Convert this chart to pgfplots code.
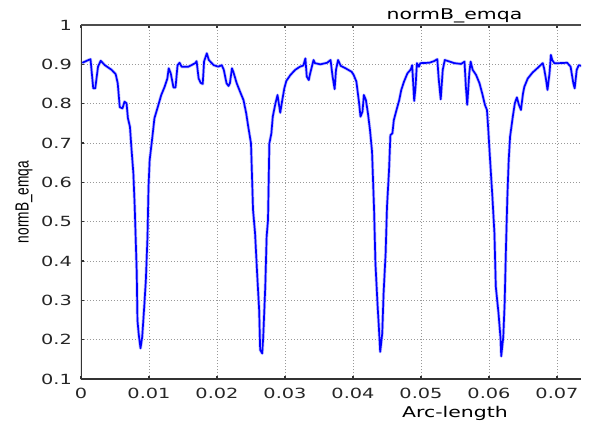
\documentclass[border=0pt]{standalone}
\usepackage{fontspec}
\usepackage{pgfplots}
\pgfplotsset{compat=1.18}
\usetikzlibrary{calc}
\newfontfamily\plotfont{DejaVu Sans}[FakeStretch=1.38]
\newfontfamily\ylabfont{Liberation Sans}[FakeStretch=0.72]

\begin{document}
\begin{tikzpicture}
\begin{axis}[
    scale only axis,
    width=500bp, height=354bp,
    xmin=0, xmax=0.07353,
    ymin=0.1, ymax=1,
    scaled x ticks=false, scaled y ticks=false,
    xtick={0,0.01,0.02,0.03,0.04,0.05,0.06,0.07},
    xticklabels={0,0.01,0.02,0.03,0.04,0.05,0.06,0.07},
    ytick={0.1,0.2,0.3,0.4,0.5,0.6,0.7,0.8,0.9,1},
    yticklabels={0.1,0.2,0.3,0.4,0.5,0.6,0.7,0.8,0.9,1},
    tick label style={font=\plotfont\fontsize{14bp}{16bp}\selectfont, black!85, inner sep=0pt},
    yticklabel style={anchor=east, xshift=-9bp},
    xticklabel style={anchor=north, yshift=-9bp},
    tick align=inside,
    xtick pos=both, ytick pos=left,
    major tick length=3bp,
    every tick/.style={black!80, line width=1.5bp},
    grid=major,
    major grid style={gray!80, line width=0.8bp, dash pattern=on 1bp off 2bp},
    axis line style={draw=none},
    title={normB\_emqa},
    every axis title/.style={at={(rel axis cs:0.747,1)}, anchor=base, yshift=5.5bp,
        inner sep=0pt, font=\plotfont\fontsize{14.8bp}{16bp}\selectfont},
    xlabel={Arc-length},
    every axis x label/.style={at={(rel axis cs:0.748,0)}, anchor=north, yshift=-27bp,
        inner sep=0pt, font=\plotfont\fontsize{14.8bp}{16bp}\selectfont},
    ylabel={normB\_emqa},
    every axis y label/.style={at={(rel axis cs:0,0.5)}, xshift=-57bp, rotate=90, anchor=center,
        inner sep=0pt, font=\ylabfont\fontsize{19bp}{21bp}\selectfont},
    clip=true,
]
\addplot[blue, line width=1.7bp, line join=round,
    preaction={draw, blue!22, line width=3.2bp, line join=round}] coordinates {
(0.0002,0.904) (0.0011,0.911) (0.0014,0.913) (0.0018,0.839) (0.0021,0.839)
(0.0025,0.894) (0.0029,0.909) (0.0035,0.898) (0.0045,0.886) (0.0051,0.875)
(0.0054,0.852) (0.0057,0.791) (0.0061,0.788) (0.0064,0.805) (0.0067,0.801)
(0.0069,0.763) (0.0072,0.741) (0.0074,0.691) (0.0077,0.623) (0.0079,0.538)
(0.0082,0.369) (0.0083,0.250) (0.0085,0.212) (0.00875,0.178) (0.0090,0.207)
(0.0093,0.284) (0.00954,0.352) (0.00978,0.462) (0.00993,0.589) (0.0101,0.657)
(0.0105,0.716) (0.0108,0.763) (0.0113,0.792) (0.0118,0.822) (0.0123,0.843)
(0.0127,0.864) (0.0129,0.890) (0.0132,0.877) (0.0136,0.841) (0.0139,0.841)
(0.0142,0.898) (0.0145,0.904) (0.0148,0.894) (0.0158,0.894) (0.0168,0.903)
(0.0170,0.908) (0.0173,0.864) (0.0176,0.853) (0.0179,0.850) (0.0181,0.907)
(0.0185,0.928) (0.0188,0.911) (0.0195,0.898) (0.0202,0.894) (0.0207,0.898)
(0.0210,0.886) (0.0214,0.852) (0.0217,0.845) (0.0219,0.852) (0.0222,0.890)
(0.0224,0.881) (0.0229,0.852) (0.0234,0.830) (0.0239,0.809) (0.0243,0.775)
(0.0246,0.741) (0.0250,0.699) (0.0253,0.530) (0.0256,0.470) (0.0259,0.369)
(0.0262,0.275) (0.02635,0.174) (0.02665,0.165) (0.0268,0.207) (0.0271,0.335)
(0.0273,0.462) (0.0275,0.504) (0.0277,0.699) (0.0280,0.725) (0.0282,0.767)
(0.0286,0.801) (0.0289,0.822) (0.0293,0.777) (0.0296,0.809) (0.0299,0.839)
(0.0302,0.858) (0.0308,0.873) (0.0315,0.886) (0.0322,0.894) (0.0327,0.897)
(0.0330,0.915) (0.0332,0.869) (0.0335,0.860) (0.0337,0.877) (0.0342,0.911)
(0.0344,0.903) (0.0352,0.900) (0.0362,0.904) (0.0367,0.911) (0.0370,0.869)
(0.0373,0.837) (0.0375,0.886) (0.0378,0.911) (0.0382,0.896) (0.0389,0.890)
(0.0398,0.881) (0.0401,0.873) (0.0405,0.856) (0.0409,0.801) (0.0411,0.767)
(0.0414,0.780) (0.0416,0.822) (0.0419,0.809) (0.0422,0.775) (0.0425,0.733)
(0.0428,0.678) (0.0431,0.530) (0.0433,0.394) (0.0436,0.292) (0.0438,0.233)
(0.0440,0.169) (0.0443,0.216) (0.0445,0.318) (0.0448,0.420) (0.0450,0.538)
(0.0453,0.631) (0.0455,0.720) (0.0458,0.725) (0.0460,0.758) (0.0464,0.784)
(0.0468,0.809) (0.0471,0.835) (0.0475,0.856) (0.0480,0.877) (0.0485,0.887)
(0.0487,0.898) (0.0490,0.807) (0.0492,0.843) (0.0494,0.903) (0.0497,0.894)
(0.0499,0.903) (0.0512,0.904) (0.0519,0.908) (0.0524,0.913) (0.0526,0.864)
(0.0529,0.811) (0.0532,0.886) (0.0535,0.911) (0.0542,0.907) (0.0549,0.903)
(0.0559,0.901) (0.0564,0.907) (0.0566,0.843) (0.0568,0.797) (0.0571,0.877)
(0.0573,0.907) (0.0576,0.886) (0.0581,0.873) (0.0586,0.852) (0.0590,0.826)
(0.0594,0.797) (0.0597,0.784) (0.0599,0.733) (0.0601,0.674) (0.0605,0.563)
(0.0608,0.470) (0.0610,0.335) (0.0614,0.267) (0.0617,0.203) (0.0618,0.158)
(0.0621,0.207) (0.0623,0.292) (0.0625,0.436) (0.0627,0.563) (0.0629,0.657)
(0.0631,0.716) (0.0635,0.767) (0.0638,0.801) (0.0641,0.816) (0.0644,0.797)
(0.0647,0.784) (0.0650,0.826) (0.0652,0.843) (0.0657,0.864) (0.0664,0.879)
(0.0671,0.890) (0.0679,0.903) (0.0681,0.890) (0.0684,0.860) (0.0686,0.835)
(0.0689,0.877) (0.0691,0.924) (0.0693,0.911) (0.0696,0.903) (0.0703,0.903)
(0.0715,0.904) (0.0720,0.894) (0.0724,0.852) (0.0726,0.839) (0.0729,0.886)
(0.0732,0.898) (0.0736,0.896)
};
% frame: heavy left/bottom, light top, none on the right
\draw[black!80, line width=2bp] (rel axis cs:0,1) -- (rel axis cs:0,0) -- (rel axis cs:1,0);
\draw[black!70, line width=1.2bp] (rel axis cs:0,1) -- (rel axis cs:1,1);
\end{axis}
\pgfresetboundingbox
\path[use as bounding box] ($(current axis.south west)+(-81bp,-43bp)$) rectangle ($(current axis.north east)+(11bp,25bp)$);
\end{tikzpicture}
\end{document}
